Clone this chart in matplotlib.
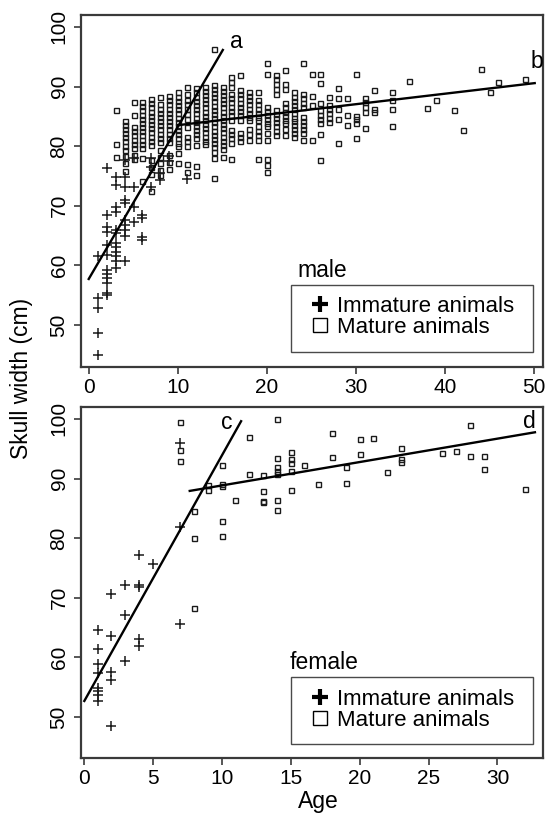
import matplotlib
matplotlib.use("Agg")
import matplotlib.pyplot as plt
from matplotlib.lines import Line2D
from matplotlib.patches import Rectangle
import numpy as np

plt.rcParams['font.family'] = ['Liberation Sans', 'DejaVu Sans']

# ---------------- data: male ----------------
male_mature_ages = [3, 4, 5, 6, 7, 8, 9, 10, 11, 12, 13, 14, 15, 16, 17, 18, 19, 20,
                    21, 22, 23, 24, 25, 26, 27, 28, 29, 30, 31, 32, 34, 36, 38, 39,
                    41, 42, 44, 45, 46, 49]
male_mature_widths = [
    [86.0, 80.4, 78.2],
    [84.3, 83.6, 82.9, 82.2, 81.5, 80.8, 80.1, 79.4, 78.4, 77.2, 75.8],
    [87.4, 85.2, 83.2, 82.5, 81.8, 81.1, 80.4, 79.7, 78.5, 77.8],
    [87.4, 86.7, 86.0, 85.3, 84.6, 83.9, 83.2, 82.5, 81.8, 81.1, 80.4, 79.7, 78.0, 74.1],
    [87.9, 87.2, 86.5, 85.8, 85.1, 84.4, 83.7, 83.0, 82.3, 81.6, 80.9, 80.2, 77.6, 76.5, 75.4, 72.5],
    [88.2, 87.0, 86.3, 85.6, 84.9, 84.2, 83.5, 82.8, 82.1, 81.4, 80.7, 79.3, 78.2, 77.1, 76.0, 75.2],
    [88.4, 87.7, 87.0, 86.3, 85.6, 84.9, 84.2, 83.5, 82.8, 82.1, 81.4, 80.7, 78.5, 77.4, 76.2],
    [89.0, 88.3, 87.6, 86.9, 86.2, 85.5, 84.8, 84.1, 83.4, 82.7, 82.0, 81.3, 80.6, 80.0, 78.8, 77.1],
    [90.0, 88.8, 87.7, 87.0, 86.2, 85.4, 84.6, 83.2, 81.6, 80.8, 80.0, 77.0, 75.6],
    [89.7, 89.0, 88.3, 87.6, 86.9, 86.2, 85.5, 84.8, 84.1, 83.4, 82.7, 82.0, 81.3, 80.2, 76.7, 75.2],
    [90.0, 89.3, 88.6, 87.9, 87.2, 86.5, 85.8, 85.1, 84.4, 83.7, 83.0, 82.3, 81.6, 80.9, 80.3],
    [96.3, 90.3, 89.6, 88.9, 88.2, 87.5, 86.8, 86.1, 85.4, 84.7, 84.0, 83.3, 82.6, 81.9, 81.2,
     80.5, 79.9, 79.1, 78.0, 74.6],
    [90.0, 89.3, 88.6, 87.9, 87.2, 86.5, 85.8, 85.1, 84.4, 83.7, 83.0, 82.3, 81.6, 80.9, 80.2, 79.5, 78.2],
    [91.6, 90.7, 89.9, 88.8, 88.1, 87.4, 86.6, 85.9, 85.2, 84.4, 82.7, 82.0, 81.3, 80.5, 77.9],
    [91.9, 89.4, 88.7, 88.0, 87.3, 86.6, 85.9, 85.2, 84.4, 82.2, 81.5, 80.8],
    [89.1, 88.4, 87.7, 87.0, 86.3, 85.6, 84.9, 84.4, 82.8, 82.1, 81.0],
    [89.1, 87.7, 87.0, 86.3, 85.6, 84.9, 84.4, 83.3, 82.6, 81.9, 81.1, 77.9],
    [94.0, 92.1, 86.6, 85.9, 85.2, 84.5, 83.8, 83.3, 82.2, 81.0, 77.9, 76.8, 75.7],
    [91.9, 91.2, 90.4, 89.6, 88.8, 86.1, 85.4, 84.7, 84.0, 83.3, 82.6, 81.8],
    [92.7, 90.4, 89.6, 87.2, 86.5, 85.8, 85.1, 84.4, 83.9, 82.8, 81.9],
    [89.0, 88.3, 87.6, 86.9, 86.2, 85.5, 84.8, 84.3, 83.6, 82.9, 82.2, 81.6],
    [94.0, 88.8, 88.1, 87.3, 86.6, 84.9, 84.2, 83.5, 82.8, 82.2, 81.0],
    [92.1, 88.4, 86.9, 81.0],
    [92.1, 90.6, 87.3, 86.0, 85.3, 84.6, 83.9, 82.0, 77.7],
    [88.3, 86.9, 86.2, 85.5, 84.8, 84.1],
    [89.8, 88.1, 86.2, 84.5, 80.6],
    [88.1, 85.3, 83.6],
    [92.1, 85.1, 84.5, 83.9, 81.4],
    [88.0, 87.4, 86.6, 85.7, 83.0],
    [89.4, 86.3, 85.7],
    [89.1, 87.7, 86.2, 83.3],
    [91.0],
    [86.4],
    [87.8],
    [86.0],
    [82.7],
    [92.9],
    [89.1],
    [90.8],
    [91.2],
]
male_immature_ages = [1, 2, 3, 4, 5, 6, 7, 8, 9, 11]
male_immature_widths = [
    [61.5, 54.6, 52.9, 48.7, 45.0],
    [76.4, 68.4, 66.4, 65.6, 63.4, 61.7, 59.2, 58.5, 57.8, 57.0, 55.3, 55.0],
    [74.8, 73.4, 69.8, 69.0, 65.9, 65.4, 63.7, 63.0, 62.3, 61.5, 60.8, 59.5],
    [77.6, 74.8, 73.1, 70.9, 70.4, 67.6, 66.7, 65.9, 65.0, 60.7],
    [78.0, 73.1, 69.8, 67.3],
    [68.4, 67.9, 64.8, 64.2],
    [78.0, 76.5, 73.1],
    [75.5, 74.3],
    [78.4, 77.5],
    [74.5],
]

# ---------------- data: female ----------------
female_mature_ages = [7, 8, 9, 10, 11, 12, 13, 14, 15, 16, 17, 18, 19, 20, 21, 22, 23,
                      26, 27, 28, 29, 32]
female_mature_widths = [
    [99.4, 94.8, 93.0],
    [84.6, 80.1, 68.3],
    [88.9, 88.0],
    [92.3, 89.0, 88.7, 82.9, 80.4],
    [86.4],
    [96.9, 90.7],
    [90.6, 87.9, 86.3, 86.0],
    [100.0, 93.4, 91.9, 91.2, 90.8, 86.4, 84.7],
    [94.5, 93.2, 92.6, 91.3, 88.1],
    [92.3],
    [89.0],
    [97.6, 93.6],
    [92.0, 89.2],
    [96.6, 94.1],
    [96.8],
    [91.1],
    [95.2, 93.2, 92.8],
    [94.3],
    [94.7],
    [98.9, 93.7],
    [93.7, 91.6],
    [88.3],
]
female_immature_ages = [1, 2, 3, 4, 5, 7]
female_immature_widths = [
    [64.6, 61.4, 58.9, 57.3, 54.9, 54.3, 53.7, 52.6],
    [70.6, 63.6, 57.6, 56.2, 48.5],
    [72.1, 67.1, 59.3],
    [77.1, 72.2, 71.8, 63.0, 61.9],
    [75.7],
    [95.9, 81.9, 65.6],
]

# fitted segments: (intercept, slope, age_start, age_end)
line_labels = ['a', 'b', 'c', 'd']
line_intercepts = [57.8, 81.76, 52.5, 84.9]
line_slopes = [2.55, 0.176, 4.13, 0.393]
line_starts = [-0.1, 9.9, 0.0, 7.6]
line_ends = [15.1, 50.2, 11.45, 32.8]

male_xticks = [0, 10, 20, 30, 40, 50]
female_xticks = [0, 5, 10, 15, 20, 25, 30]
yticks = [50, 60, 70, 80, 90, 100]
legend_labels = ['Immature animals', 'Mature animals']


def flatten(ages, widths):
    xs, ys = [], []
    for a, ws in zip(ages, widths):
        for w in ws:
            xs.append(a)
            ys.append(w)
    return np.array(xs), np.array(ys)


W, H = 548, 813
fig = plt.figure(figsize=(W / 100, H / 100), dpi=100)

frame_col = '#3a3a3a'
mcol = '#1a1a1a'
TICK_FS = 15
TEXT_FS = 16.5
LEG_FS = 16


def setup(ax, xlim, ylim, xticks):
    ax.set_xlim(*xlim)
    ax.set_ylim(*ylim)
    ax.set_xticks(xticks)
    ax.set_yticks(yticks)
    for s in ax.spines.values():
        s.set_color(frame_col)
        s.set_linewidth(1.6)
    ax.tick_params(axis='both', direction='out', length=5, width=1.2,
                   color=frame_col, labelsize=TICK_FS, pad=3)
    ax.tick_params(axis='y', labelrotation=90, pad=4)
    for l in ax.get_yticklabels():
        l.set_va('center')


def draw(ax, mat, imm, idx_list):
    mx, my = flatten(*mat)
    ix, iy = flatten(*imm)
    ax.plot(mx, my, ls='none', marker='s', ms=3.6, mfc='none', mec=mcol, mew=1.0)
    ax.plot(ix, iy, ls='none', marker='+', ms=6.5, mec=mcol, mew=1.1)
    for i in idx_list:
        xs = np.array([line_starts[i], line_ends[i]])
        ys = line_intercepts[i] + line_slopes[i] * xs
        ax.plot(xs, ys, color='black', lw=1.7, solid_capstyle='butt')


def legend(ax, title, title_x, title_y, box, rows_y):
    handles = [Line2D([], [], ls='none', marker='+', ms=12, color='black', mew=3.0),
               Line2D([], [], ls='none', marker='s', ms=10, mfc='none', mec='black', mew=1.0)]
    ax.legend(handles, legend_labels, loc='center left',
              bbox_to_anchor=(0.4957, rows_y), frameon=False,
              fontsize=LEG_FS, handlelength=0.9, handletextpad=0.3, borderpad=0.0,
              labelspacing=0.0, borderaxespad=0.0)
    x0, y0, x1, y1 = box
    ax.add_patch(Rectangle((x0, y0), x1 - x0, y1 - y0, transform=ax.transAxes,
                           fill=False, edgecolor='#4a4a4a', lw=1.0, zorder=5))
    ax.text(title_x, title_y, title, transform=ax.transAxes, fontsize=TEXT_FS,
            ha='left', va='baseline')


# top (male)
ax1 = fig.add_axes([81 / W, 1 - 367 / H, 462 / W, 352 / H])
setup(ax1, (-0.9, 51.0), (42.95, 102.0), male_xticks)
draw(ax1, (male_mature_ages, male_mature_widths), (male_immature_ages, male_immature_widths), [0, 1])
ax1.text(16.5, 97.6, line_labels[0], fontsize=TEXT_FS, ha='center', va='center')
ax1.text(50.3, 94.2, line_labels[1], fontsize=TEXT_FS, ha='center', va='center')
legend(ax1, 'male', 0.4675, 0.2557, (0.4545, 0.0426, 0.9784, 0.233), 0.142)

# bottom (female)
ax2 = fig.add_axes([81 / W, 1 - 758 / H, 462 / W, 351 / H])
setup(ax2, (-0.2, 33.3), (43.1, 102.0), female_xticks)
draw(ax2, (female_mature_ages, female_mature_widths), (female_immature_ages, female_immature_widths), [2, 3])
ax2.text(10.4, 99.4, line_labels[2], fontsize=TEXT_FS, ha='center', va='center')
ax2.text(32.3, 99.6, line_labels[3], fontsize=TEXT_FS, ha='center', va='center')
legend(ax2, 'female', 0.4524, 0.2527, (0.4545, 0.0399, 0.9784, 0.2308), 0.1368)

fig.text(22 / W, 1 - 378 / H, 'Skull width (cm)', rotation=90, fontsize=TEXT_FS,
         ha='center', va='center')
fig.text(318 / W, 1 - 801 / H, 'Age', fontsize=TEXT_FS, ha='center', va='center')

fig.savefig('out.png', dpi=100)
